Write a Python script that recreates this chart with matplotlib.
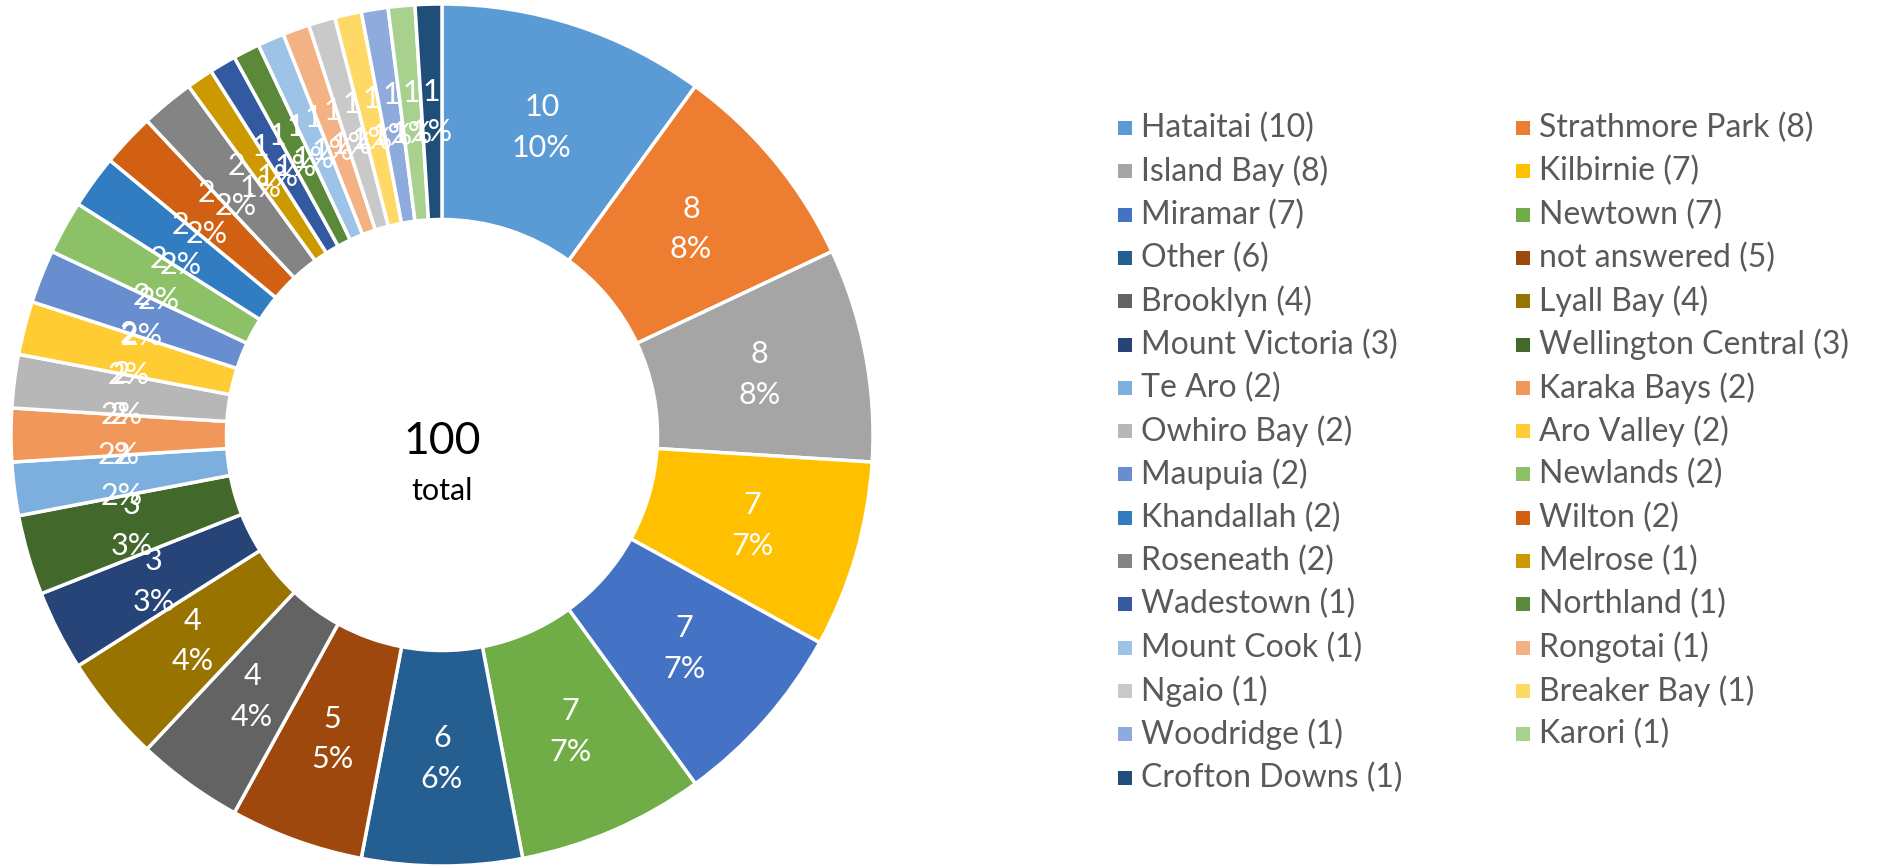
import matplotlib.pyplot as plt
from matplotlib.patches import Rectangle

# Data
suburbs = ['Hataitai', 'Strathmore Park', 'Island Bay', 'Kilbirnie', 'Miramar',
           'Newtown', 'Other', 'not answered', 'Brooklyn', 'Lyall Bay',
           'Mount Victoria', 'Wellington Central', 'Te Aro', 'Karaka Bays',
           'Owhiro Bay', 'Aro Valley', 'Maupuia', 'Newlands', 'Khandallah',
           'Wilton', 'Roseneath', 'Melrose', 'Wadestown', 'Northland',
           'Mount Cook', 'Rongotai', 'Ngaio', 'Breaker Bay', 'Woodridge',
           'Karori', 'Crofton Downs']
counts = [10, 8, 8, 7, 7, 7, 6, 5, 4, 4, 3, 3, 2, 2, 2, 2, 2, 2, 2, 2, 2,
          1, 1, 1, 1, 1, 1, 1, 1, 1, 1]
colors = ['#5B9BD5', '#ED7D31', '#A5A5A5', '#FFC000', '#4472C4', '#70AD47',
          '#255E91', '#9E480E', '#636363', '#997300', '#264478', '#43682B',
          '#7CAFDD', '#F1975A', '#B7B7B7', '#FFCD33', '#698ED0', '#8CC168',
          '#327DC2', '#D26012', '#848484', '#CC9A00', '#335AA1', '#5A8A39',
          '#9DC3E6', '#F4B183', '#C9C9C9', '#FFD966', '#8FAADC', '#A9D18E',
          '#1F4E79']

plt.rcParams['font.family'] = ['Lato', 'DejaVu Sans']
total = sum(counts)

W, H = 1877, 868
fig = plt.figure(figsize=(W / 100, H / 100), dpi=100)

# Donut
cx, cy, r = 442, 435, 431
ax = fig.add_axes([(cx - r) / W, (H - cy - r) / H, 2 * r / W, 2 * r / H])
wedges, texts = ax.pie(counts, colors=colors, startangle=90, counterclock=False,
                       radius=1, labels=[f'{c}\n{c * 100 / total:.0f}%' for c in counts],
                       labeldistance=0.75, textprops=dict(color='white', fontsize=22,
                                                          ha='center', va='center',
                                                          linespacing=1.55),
                       wedgeprops=dict(width=0.5, edgecolor='white', linewidth=2.5))
ax.set_xlim(-1, 1)
ax.set_ylim(-1, 1)
ax.set_aspect('equal')
ax.text(0, -0.014, str(total), ha='center', va='center', fontsize=32, color='black')
ax.text(0, -0.13, 'total', ha='center', va='center', fontsize=22, color='black')

# Legend, filled row by row in two columns
col_x = [1125, 1523]
row0, dy = 128, 43.3
for i, (name, c, col) in enumerate(zip(suburbs, counts, colors)):
    x = col_x[i % 2]
    y = row0 + (i // 2) * dy
    fig.patches.append(Rectangle(((x - 7) / W, (H - y - 7) / H), 14 / W, 14 / H,
                                 transform=fig.transFigure, facecolor=col,
                                 edgecolor='none'))
    fig.text((x + 16) / W, (H - y) / H, f'{name} ({c})', ha='left', va='center',
             fontsize=23, color='#595959')

fig.savefig('out.png', dpi=100)
